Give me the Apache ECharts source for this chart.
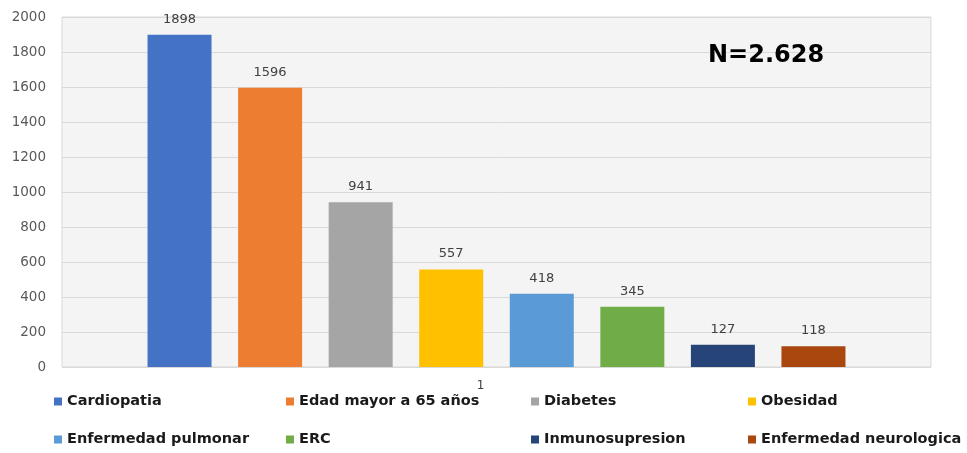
<!DOCTYPE html>
<html>
<head>
<meta charset="utf-8">
<script src="https://cdn.jsdelivr.net/npm/echarts@6/dist/echarts.min.js"></script>
<style>
  html, body { margin: 0; padding: 0; background: #fff; }
  #chart { width: 967px; height: 453px; }
</style>
</head>
<body>
<div id="chart"></div>
<script>
// Risk factors: one category, one bar per factor
const categories = ['1'];
const factorNames = [
  'Cardiopatia', 'Edad mayor a 65 años', 'Diabetes', 'Obesidad',
  'Enfermedad pulmonar', 'ERC', 'Inmunosupresion', 'Enfermedad neurologica'
];
const factorValues = [1898, 1596, 941, 557, 418, 345, 127, 118];
const factorColors = [
  '#4472C4', '#ED7D31', '#A5A5A5', '#FFC000',
  '#5B9BD5', '#70AD47', '#264478', '#A9470F'
];
const yTicks = { min: 0, max: 2000, interval: 200 };
const totalLabel = 'N=2.628';

const chart = echarts.init(document.getElementById('chart'), null, { renderer: 'canvas' });

const series = factorNames.map((name, i) => ({
  name: name,
  type: 'bar',
  data: [factorValues[i]],
  barWidth: 64,
  barGap: '41.5%',
  itemStyle: { color: factorColors[i] },
  label: {
    show: true,
    position: 'top',
    distance: 9,
    color: '#404040',
    fontSize: 13,
    fontFamily: 'DejaVu Sans'
  }
}));

// legend laid out as 4 columns x 2 rows
const legendCols = [54, 286, 531, 748];
const legends = legendCols.map((x, c) => ({
  left: x,
  top: 394,
  padding: 0,
  orient: 'vertical',
  itemGap: 23,
  itemWidth: 8,
  itemHeight: 8,
  icon: 'rect',
  data: [factorNames[c], factorNames[c + 4]],
  textStyle: {
    color: '#1a1a1a',
    fontSize: 14.5,
    fontWeight: 'bold',
    fontFamily: 'DejaVu Sans'
  }
}));

chart.setOption({
  animation: false,
  backgroundColor: '#ffffff',
  title: {
    text: totalLabel,
    left: 708,
    top: 44,
    padding: 0,
    textStyle: { fontSize: 24, fontWeight: 'bold', color: '#000', fontFamily: 'DejaVu Sans' }
  },
  legend: legends,
  grid: {
    left: 62, right: 36, top: 17, bottom: 86,
    show: true,
    backgroundColor: '#f4f4f4',
    borderColor: '#d9d9d9',
    borderWidth: 1
  },
  xAxis: {
    type: 'category',
    data: categories,
    axisLine: { show: false },
    axisTick: { show: false },
    axisLabel: {
      color: '#404040',
      fontSize: 12,
      fontFamily: 'DejaVu Sans',
      margin: 13,
      padding: [0, 32, 0, 0]
    }
  },
  yAxis: {
    type: 'value',
    min: yTicks.min,
    max: yTicks.max,
    interval: yTicks.interval,
    axisLine: { show: false },
    axisTick: { show: false },
    axisLabel: {
      color: '#595959',
      fontSize: 13.5,
      fontFamily: 'DejaVu Sans',
      margin: 16,
      formatter: v => String(v)
    },
    splitLine: { lineStyle: { color: '#d9d9d9', width: 1 } }
  },
  series: series
});
</script>
</body>
</html>
